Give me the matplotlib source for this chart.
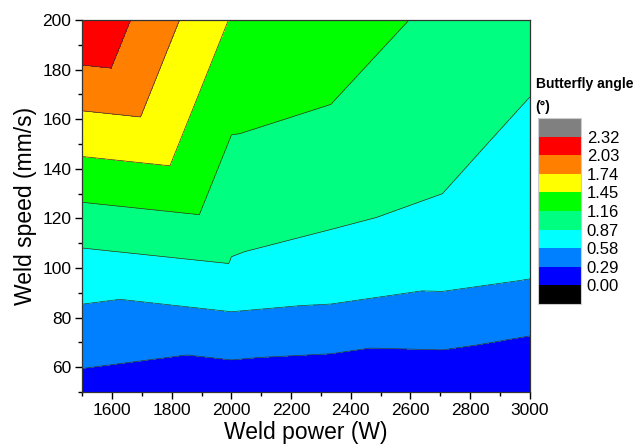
import numpy as np
import matplotlib
matplotlib.use("Agg")
import matplotlib.pyplot as plt
import matplotlib.tri as mtri
from matplotlib.colors import ListedColormap, BoundaryNorm
from matplotlib.ticker import MultipleLocator

plt.rcParams['font.family'] = ['Liberation Sans', 'DejaVu Sans']

# Data: butterfly angle (deg) at each power / speed node
power = [1500, 2000, 2333, 2707, 3000]
speed = [50, 100, 150, 200]
angle_50 = [0.184, 0.097, 0.067, 0.081, 0.005]
angle_100 = [0.743, 0.843, 0.790, 0.696, 0.635]
angle_150 = [1.529, 1.138, 1.047, 0.986, 0.759]
angle_200 = [2.315, 1.432, 1.400, 1.057, 1.051]

levels = [0.00, 0.29, 0.58, 0.87, 1.16, 1.45, 1.74, 2.03, 2.32]
band_colors = ['#0000FF', '#0080FF', '#00FFFF', '#00FF80',
               '#00FF00', '#FFFF00', '#FF8000', '#FF0000']

X, Y = np.meshgrid(power, speed)
Z = np.array([angle_50, angle_100, angle_150, angle_200])
x = X.ravel()
y = Y.ravel()
z = Z.ravel()

# triangles (Origin style triangulation of the grid)
nx = len(power)
def idx(i, j):
    return j * nx + i

tris = []
for j in range(len(speed) - 1):
    for i in range(nx - 1):
        if i == 0 and j >= 1:
            continue
        bl, br, tl, tr = idx(i, j), idx(i + 1, j), idx(i, j + 1), idx(i + 1, j + 1)
        if i == 0:
            tris += [(bl, br, tl), (br, tr, tl)]
        else:
            tris += [(bl, br, tr), (bl, tr, tl)]
tris += [(idx(0, 1), idx(1, 1), idx(0, 2)), (idx(0, 2), idx(1, 1), idx(0, 3)),
         (idx(1, 1), idx(1, 2), idx(0, 3)), (idx(1, 2), idx(1, 3), idx(0, 3))]
tri = mtri.Triangulation(x, y, tris)

cmap = ListedColormap(band_colors)
cmap.set_under('#000000')
cmap.set_over('#808080')
norm = BoundaryNorm(levels, cmap.N)

fig = plt.figure(figsize=(6.33, 4.47), dpi=100)
ax = fig.add_axes([0.130, 0.123, 0.707, 0.832])

cs = ax.tricontourf(tri, z, levels=levels, cmap=cmap, norm=norm, extend='both')
ax.tricontour(tri, z, levels=levels, colors='#333333', linewidths=0.5)

ax.set_xlim(1500, 3000)
ax.set_ylim(50, 200)
ax.xaxis.set_major_locator(MultipleLocator(200))
ax.xaxis.set_minor_locator(MultipleLocator(100))
ax.yaxis.set_major_locator(MultipleLocator(20))
ax.yaxis.set_minor_locator(MultipleLocator(10))
ax.set_xticks([1600, 1800, 2000, 2200, 2400, 2600, 2800, 3000])
ax.tick_params(which='major', direction='out', length=5, width=1, labelsize=12.5, pad=3)
ax.tick_params(which='minor', direction='out', length=3, width=1)
for s in ax.spines.values():
    s.set_color('#333333')
    s.set_linewidth(0.9)
ax.set_xlabel('Weld power (W)', fontsize=16.5, labelpad=2)
ax.set_ylabel('Weld speed (mm/s)', fontsize=16.5, labelpad=4)

cax = fig.add_axes([0.850, 0.320, 0.068, 0.416])
cb = fig.colorbar(cs, cax=cax, extend='both', extendrect=True, extendfrac=0.125)
cb.set_ticks(levels)
cb.set_ticklabels([f'{v:.2f}' for v in levels])
cax.tick_params(length=0, labelsize=12, pad=4)
cb.outline.set_edgecolor('#cccccc')
cb.outline.set_linewidth(0.8)

fig.text(0.846, 0.804, 'Butterfly angle', fontsize=10, fontweight='bold')
fig.text(0.846, 0.752, '(°)', fontsize=10, fontweight='bold')

fig.savefig('out.png', dpi=100)
